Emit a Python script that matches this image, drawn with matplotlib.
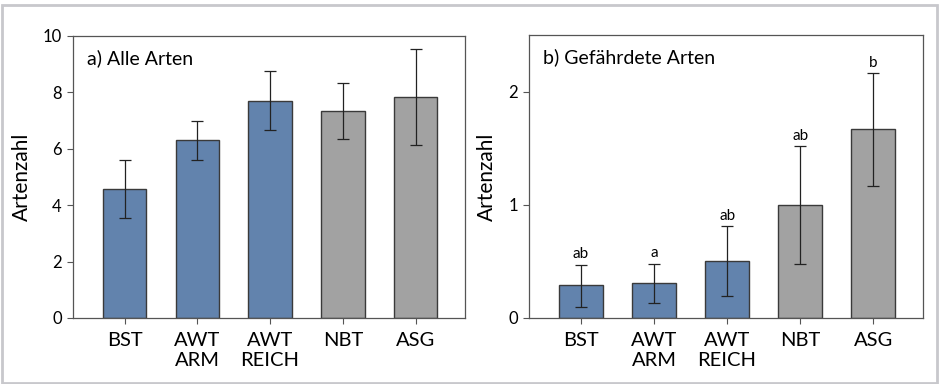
import matplotlib.pyplot as plt
from matplotlib.patches import Rectangle

plt.rcParams['font.family'] = ['Lato', 'DejaVu Sans']

categories = ['BST', 'AWT\nARM', 'AWT\nREICH', 'NBT', 'ASG']
colors = ['#6283ad', '#6283ad', '#6283ad', '#a2a2a2', '#a2a2a2']

alle_mean = [4.57, 6.31, 7.70, 7.34, 7.83]
alle_low = [3.55, 5.60, 6.65, 6.35, 6.15]
alle_high = [5.60, 7.00, 8.75, 8.33, 9.55]

gef_mean = [0.29, 0.31, 0.50, 1.00, 1.67]
gef_low = [0.10, 0.13, 0.19, 0.48, 1.17]
gef_high = [0.47, 0.48, 0.81, 1.52, 2.16]
gef_letters = ['ab', 'a', 'ab', 'ab', 'b']

fig = plt.figure(figsize=(9.39, 3.84), dpi=100)
fig.patches.append(Rectangle((0.002, 0.003), 0.996, 0.985, transform=fig.transFigure,
                             fill=False, edgecolor='#c8c8cc', linewidth=2))

ax1 = fig.add_axes([73 / 939, 1 - 318 / 384, 392 / 939, 282 / 384])
ax2 = fig.add_axes([529 / 939, 1 - 318 / 384, 394 / 939, 283 / 384])


def draw(ax, mean, low, high, title, ylim, yticks):
    x = list(range(len(categories)))
    yerr = [[m - l for m, l in zip(mean, low)], [h - m for m, h in zip(mean, high)]]
    ax.bar(x, mean, width=0.6, color=colors, edgecolor='#3a3a3a', linewidth=1.0, zorder=2)
    ax.errorbar(x, mean, yerr=yerr, fmt='none', ecolor='#222222', elinewidth=0.9,
                capsize=4, capthick=0.9, zorder=3)
    ax.set_xlim(-0.71, 4.68)
    ax.set_ylim(*ylim)
    ax.set_yticks(yticks)
    ax.set_xticks(x)
    ax.set_xticklabels(categories, fontsize=14.5, linespacing=1.2)
    ax.tick_params(axis='y', labelsize=12, length=4, color='#555555', pad=4)
    ax.tick_params(axis='x', length=4, color='#555555', pad=6)
    for s in ax.spines.values():
        s.set_color('#555555')
        s.set_linewidth(0.9)
    ax.set_ylabel('Artenzahl', fontsize=15, labelpad=8)
    ax.text(0.035, 0.92, title, transform=ax.transAxes, fontsize=14, va='center', ha='left')
    return x


draw(ax1, alle_mean, alle_low, alle_high, 'a) Alle Arten', (0, 10), [0, 2, 4, 6, 8, 10])
xs = draw(ax2, gef_mean, gef_low, gef_high, 'b) Gefährdete Arten', (0, 2.5), [0, 1, 2])
for xi, h, lab in zip(xs, gef_high, gef_letters):
    ax2.text(xi, h + 0.03, lab, ha='center', va='bottom', fontsize=11)

fig.savefig('out.png', dpi=100)
